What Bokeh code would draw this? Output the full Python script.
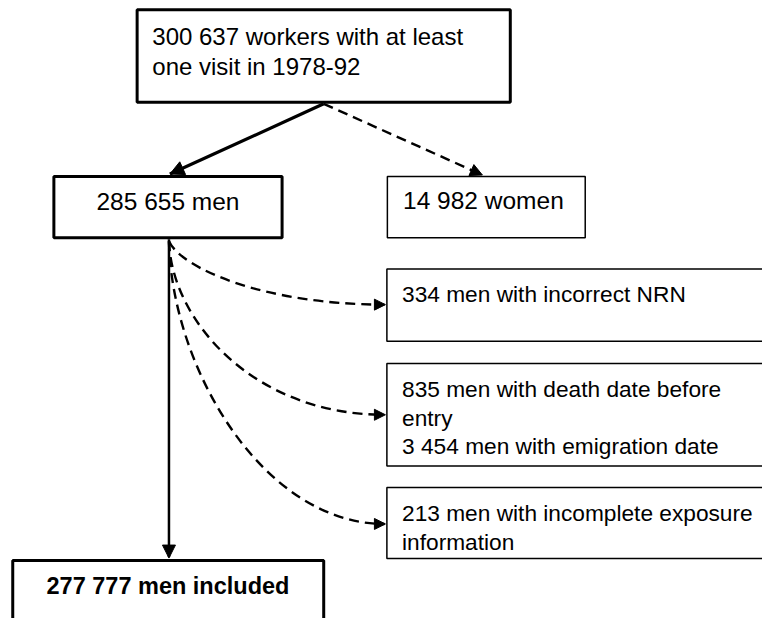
from bokeh.plotting import figure
from bokeh.models import Range1d, Arrow, NormalHead
from bokeh.core.properties import value
from bokeh.embed import file_html
from bokeh.resources import INLINE

# ---- content (data) ----
top_lines = ["300 637 workers with at least", "one visit in 1978-92"]
men_lines = ["285 655 men"]
women_lines = ["14 982 women"]
nrn_lines = ["334 men with incorrect NRN"]
death_lines = ["835 men with death date before", "entry", "3 454 men with emigration date"]
expo_lines = ["213 men with incomplete exposure", "information"]
incl_lines = ["277 777 men included"]

# ---- layout (reference pixel coordinates) ----
BASE_FIX = 6.5  # svg text baseline correction
boxes = [
    # lines, left, right, top, bottom, border width, text x, first baseline, line step, align, bold, font px
    (top_lines,   139.5, 520.5,   9.5, 104.5, 3.0, 155, 43, 31, "left", False, "24px"),
    (men_lines,    54.5, 287.5, 180.5, 243.5, 3.0, 171, 213, 31, "center", False, "24.5px"),
    (women_lines, 395.0, 597.0, 180.5, 243.5, 1.5, 411, 212, 31, "left", False, "24.5px"),
    (nrn_lines,   394.5, 800.0, 275.5, 349.5, 1.5, 410, 308, 30, "left", False, "22.7px"),
    (death_lines, 394.5, 800.0, 372.5, 477.5, 1.5, 410, 405, 29.5, "left", False, "22.7px"),
    (expo_lines,  394.5, 800.0, 499.5, 572.5, 1.5, 410, 532, 30, "left", False, "22.7px"),
    (incl_lines,   12.5, 330.0, 574.5, 660.0, 3.0, 171, 607, 30, "center", True, "23.5px"),
]

p = figure(width=762, height=618, x_range=Range1d(0, 778), y_range=Range1d(634, 0),
           output_backend="svg", toolbar_location=None, x_axis_type=None, y_axis_type=None,
           min_border=0, outline_line_color=None, background_fill_color="white")
p.grid.visible = False

# connectors
p.line([330, 173], [106, 178], line_color="black", line_width=3.2)
p.line([330, 492], [106, 179], line_color="black", line_width=2.4, line_dash="10 6")
p.line([172, 172], [245, 571], line_color="black", line_width=2.5)

curves = [
    # x0, y0, cx0, cy0, cx1, cy1, x1, y1
    (172, 247, 185, 275, 270, 312, 392, 312),
    (172, 247, 175, 330, 260, 425, 392, 425),
    (172, 247, 175, 380, 270, 537, 392, 537),
]
for x0, y0, cx0, cy0, cx1, cy1, x1, y1 in curves:
    p.bezier(x0=[x0], y0=[y0], cx0=[cx0], cy0=[cy0], cx1=[cx1], cy1=[cy1], x1=[x1], y1=[y1],
             line_color="black", line_width=2.4, line_dash="10 6")

for lines, l, r, t, b, lw, tx, by, step, align, bold, fs in boxes:
    p.quad(left=[l], right=[r], top=[t], bottom=[b], fill_color="white",
           line_color="black", line_width=lw)
    p.text(x=[tx] * len(lines), y=[by - BASE_FIX + i * step for i in range(len(lines))], text=lines,
           text_font=value("Liberation Sans"), text_font_size=fs,
           text_font_style="bold" if bold else "normal",
           text_align=align, text_baseline="alphabetic", text_color="black")

# arrowheads
heads = [
    (173 + 15.7, 178 - 7.2, 173, 178, 14),
    (492 - 16.2, 179 - 7.3, 492, 179, 12),
    (172, 560, 172, 572, 13),
    (382, 312, 393, 312, 11),
    (382, 425, 393, 425, 11),
    (382, 537, 393, 537, 11),
]
for xs, ys, xe, ye, sz in heads:
    p.add_layout(Arrow(x_start=xs, y_start=ys, x_end=xe, y_end=ye, line_alpha=0,
                       end=NormalHead(size=sz, fill_color="black", line_color="black", line_width=1)))

open("out.html", "w").write(file_html(p, INLINE))
